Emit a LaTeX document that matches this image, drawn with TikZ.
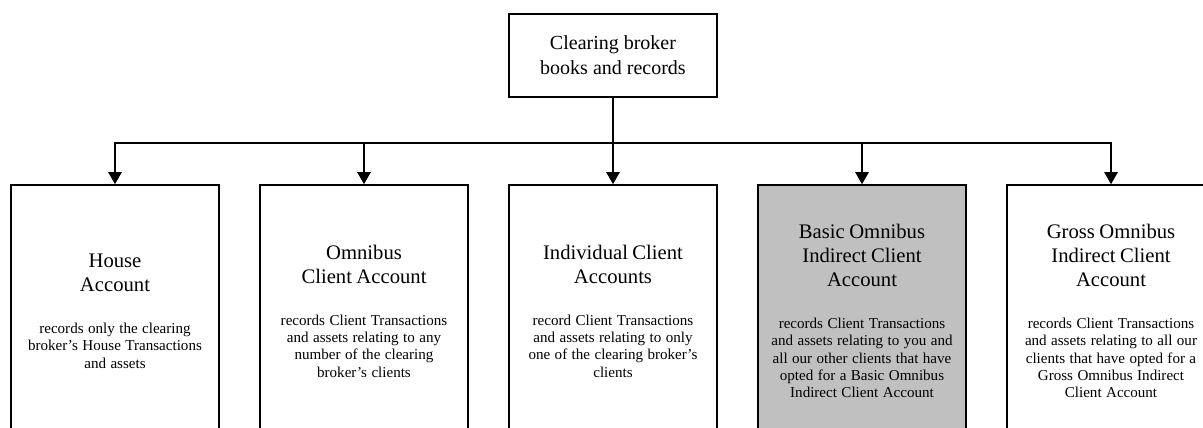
\documentclass[tikz,border=0pt]{standalone}
\usepackage{fontspec}
\setmainfont{Liberation Serif}
\usetikzlibrary{arrows.meta}
\definecolor{boxgray}{RGB}{192,192,192}
\tikzset{
  topbox/.style={draw=black, line width=1.2pt, rectangle, minimum width=156pt, minimum height=62.25pt, align=center, inner sep=0pt, font=\fontsize{15}{18.75}\selectfont},
  acctbox/.style={draw=black, line width=1.2pt, rectangle, minimum width=156pt, minimum height=189pt, text width=150pt, align=center, inner sep=3pt},
  conn/.style={line width=1pt, draw=black},
  arr/.style={conn, -{Triangle[length=9pt,width=10pt]}}
}
\newcommand{\accttext}[2]{{\fontsize{15.5}{18}\selectfont #1\par}\vspace{18.5pt}{\fontsize{11.3}{13}\selectfont #2\par}}
\begin{document}
\begin{tikzpicture}[x=0.75pt,y=-0.75pt]
\path[use as bounding box, clip] (0,0) rectangle (1203,428);
\fill[white] (0,0) rectangle (1203,428);
\node[topbox] (top) at (613,55.5) {Clearing broker\\books and records};
\node[acctbox] (b1) at (115,311) {\accttext{House\\Account}{records only the clearing\\broker’s House Transactions\\and assets}};
\node[acctbox] (b2) at (364,311) {\accttext{Omnibus\\Client Account}{records Client Transactions\\and assets relating to any\\number of the clearing\\broker’s clients}};
\node[acctbox] (b3) at (613,311) {\accttext{Individual Client\\Accounts}{record Client Transactions\\and assets relating to only\\one of the clearing broker’s\\clients}};
\node[acctbox, fill=boxgray] (b4) at (862,311) {\accttext{Basic Omnibus\\Indirect Client\\Account}{records Client Transactions\\and assets relating to you and\\all our other clients that have\\opted for a Basic Omnibus\\Indirect Client Account}};
\node[acctbox] (b5) at (1111,311) {\accttext{Gross Omnibus\\Indirect Client\\Account}{records Client Transactions\\and assets relating to all our\\clients that have opted for a\\Gross Omnibus Indirect\\Client Account}};
\coordinate (bus) at (613,143);
\draw[arr] (top.south) -- (b3.north);
\draw[arr] (bus) -| (b1.north);
\draw[arr] (bus) -| (b2.north);
\draw[arr] (bus) -| (b4.north);
\draw[arr] (bus) -| (b5.north);
\end{tikzpicture}
\end{document}
